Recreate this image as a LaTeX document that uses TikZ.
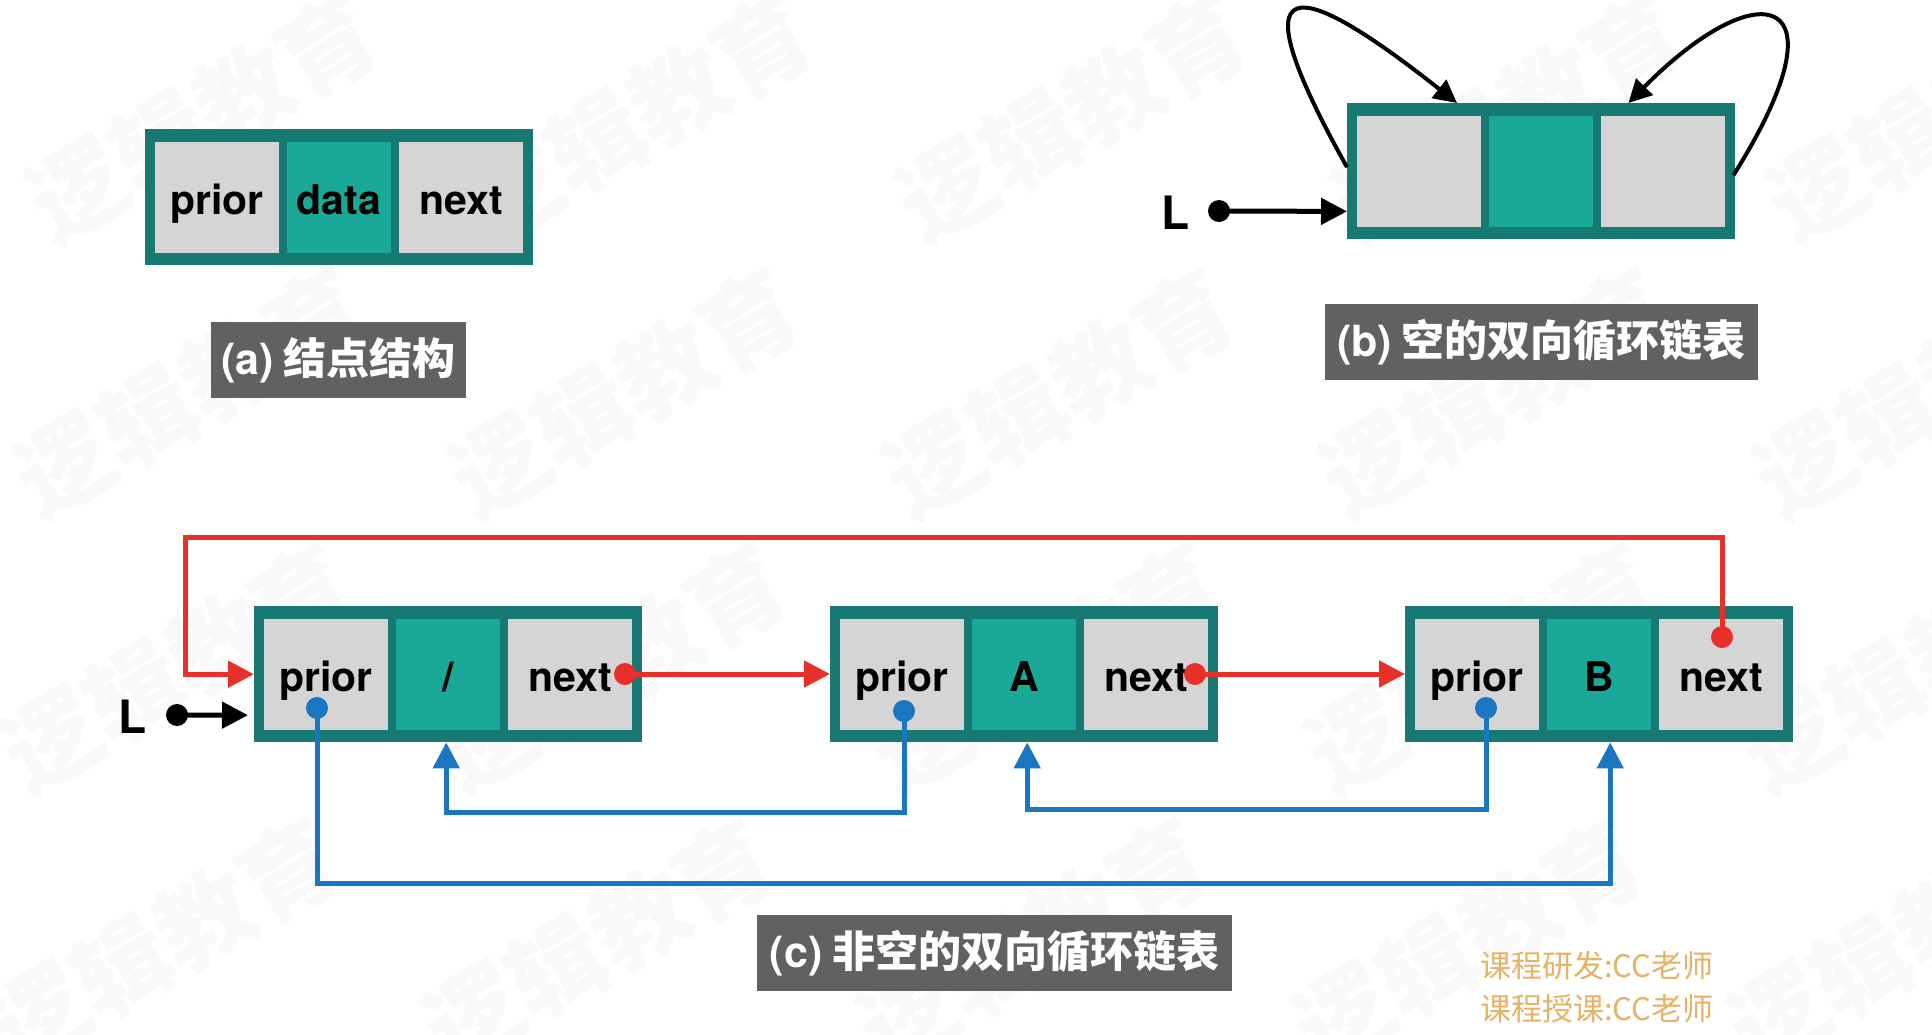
\documentclass[tikz,border=0pt]{standalone}
\usepackage{fontspec}
\setmainfont{TeX Gyre Heros}
\newfontfamily\cjk{Noto Sans CJK SC}
\newfontfamily\latinf{TeX Gyre Heros}
\usetikzlibrary{arrows.meta,calc}
\definecolor{tealdark}{HTML}{177A72}
\definecolor{tealmid}{HTML}{1AA898}
\definecolor{cellgray}{HTML}{D5D5D6}
\definecolor{capgray}{HTML}{616161}
\definecolor{linered}{HTML}{E8302A}
\definecolor{lineblue}{HTML}{1A76C0}
\definecolor{credit}{HTML}{E6B265}
\definecolor{wmark}{HTML}{F9F9F9}
\tikzset{
  outerbox/.style={fill=tealdark, minimum width=388pt, minimum height=136pt, inner sep=0pt, anchor=north west},
  cellbase/.style={inner sep=0pt, minimum height=111pt, text height=42pt, text depth=9pt,
     font=\fontsize{41}{43}\selectfont\bfseries},
  graycell/.style={cellbase, fill=cellgray, minimum width=124pt},
  datacell/.style={cellbase, fill=tealmid, minimum width=104pt},
  caption/.style={fill=capgray, text=white, minimum height=76pt, inner sep=0pt,
     font=\cjk\bfseries\fontsize{43}{45}\selectfont},
  Lstyle/.style={font=\fontsize{46}{48}\selectfont\bfseries, inner sep=0pt},
  redline/.style={draw=linered, line width=5pt, -{Triangle[length=26pt,width=26pt]}},
  blueline/.style={draw=lineblue, line width=5pt, -{Triangle[length=26pt,width=26pt]}},
  blackline/.style={draw=black, line width=5pt, -{Triangle[length=26pt,width=26pt]}},
  loopline/.style={draw=black, line width=4pt, -{Triangle[length=23pt,width=23pt]}},
  creditstyle/.style={text=credit, anchor=west, inner sep=0pt, font=\cjk\fontsize{31}{33}\selectfont},
  wm/.style={text=wmark, rotate=30, inner sep=0pt, font=\cjk\bfseries\fontsize{96}{96}\selectfont}
}
\newcommand\dnode[6]{%
  \node[outerbox] (#1) at (#2,#3) {};
  \node[graycell] (#1p) at (#2+72,#3+68.5) {#4};
  \node[datacell] (#1d) at (#2+194,#3+68.5) {#5};
  \node[graycell] (#1n) at (#2+316,#3+68.5) {#6};
}
\begin{document}
\begin{tikzpicture}[x=1pt,y=-1pt]
\useasboundingbox (0,0) rectangle (1932,1034);
\fill[white] (0,0) rectangle (1932,1034);
% faint watermark
\begin{scope}
\clip (0,0) rectangle (1932,1034);
\foreach \i in {-1,...,4}{
  \foreach \j in {0,...,3}{
    \node[wm] at ({637+435*\i-13*\j},{118+275*\j}) {逻辑教育};
  }
}
\end{scope}
% nodes
\dnode{na}{145}{129}{prior}{data}{next}
\dnode{nb}{1347}{103}{}{}{}
\dnode{n1}{254}{606}{prior}{/}{next}
\dnode{n2}{830}{606}{prior}{A}{next}
\dnode{n3}{1405}{606}{prior}{B}{next}
% captions
\node[caption, minimum width=255pt] (capa) at (338.5,360) {{\latinf\bfseries (a)} 结点结构};
\node[caption, minimum width=433pt] (capb) at (1541.5,342) {{\latinf\bfseries (b)} 空的双向循环链表};
\node[caption, minimum width=475pt] (capc) at (994.5,953) {{\latinf\bfseries (c)} 非空的双向循环链表};
% L labels
\node[Lstyle, anchor=base] (Lb) at (1175.5,229) {L};
\node[Lstyle, anchor=base] (Lc) at (133,733) {L};
\coordinate (Lbd) at (1219,211);
\coordinate (Lcd) at (177,715);
\draw[blackline] (Lbd) -- ($(nb.south west)+(0,-28)$);
\draw[blackline] (Lcd) -- ($(n1.west)+(-6,41)$);
\fill (Lbd) circle (11pt);
\fill (Lcd) circle (11pt);
% loops of empty list
\draw[loopline] ($(nb.west)+(0,-4)$) .. controls (1220,-60) and (1320,-5) .. ($(nb.north west)+(110,0)$);
\draw[loopline] ($(nb.east)+(-2,4)$) .. controls (1850,-10) and (1760,-30) .. ($(nb.north east)+(-107,0)$);
% pointer coordinates
\coordinate (r1) at ($(n1n.center)+(55,-0.5)$);
\coordinate (r2) at ($(n2n.center)+(49,-0.5)$);
\coordinate (r3) at ($(n3n.center)+(1,-37.5)$);
\coordinate (b1) at ($(n1p.center)+(-9,33.5)$);
\coordinate (b2) at ($(n2p.center)+(2,36.5)$);
\coordinate (b3) at ($(n3p.center)+(9,33.5)$);
% red next pointers
\draw[redline] (r1) -- (r1 -| n2.west);
\draw[redline] (r2) -- (r2 -| n3.west);
\draw[redline] (r3) |- ($(n1.west)+(-69,-137)$) |- (n1.west);
% blue prior pointers
\draw[blueline] (b2) |- ($(n1.south)+(-2,70)$) -- ($(n1.south)+(-2,0)$);
\draw[blueline] (b3) |- ($(n2.south)+(3,67)$) -- ($(n2.south)+(3,0)$);
\draw[blueline] (b1) |- ($(n3.south)+(11,141)$) -- ($(n3.south)+(11,0)$);
% dots
\fill[linered] (r1) circle (11pt);
\fill[linered] (r2) circle (11pt);
\fill[linered] (r3) circle (11pt);
\fill[lineblue] (b1) circle (11pt);
\fill[lineblue] (b2) circle (11pt);
\fill[lineblue] (b3) circle (11pt);
% credits
\node[creditstyle] (cr1) at (1480,966) {课程研发:CC老师};
\node[creditstyle] (cr2) at (1480,1009) {课程授课:CC老师};
\end{tikzpicture}
\end{document}
